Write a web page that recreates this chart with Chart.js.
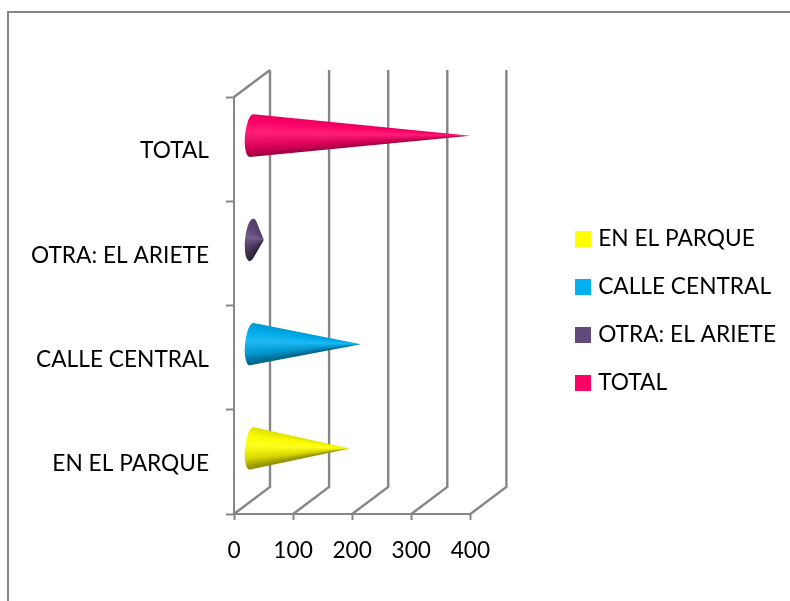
<!DOCTYPE html>
<html lang="es">
<head>
<meta charset="utf-8">
<title>Calles</title>
<script src="https://cdn.jsdelivr.net/npm/chart.js@4/dist/chart.umd.min.js"></script>
<style>
  html, body { margin: 0; padding: 0; background: #fff; overflow: hidden; }
  #frame { position: absolute; left: 7px; top: 11px; right: 0; bottom: 0; border-left: 2px solid #868686; border-top: 2px solid #868686; }
  #chart { position: absolute; left: 0; top: 0; display: block; }
</style>
</head>
<body>
<div id="frame"></div>
<canvas id="chart" width="790" height="601"></canvas>
<script>
const categories = ['EN EL PARQUE', 'CALLE CENTRAL', 'OTRA: EL ARIETE', 'TOTAL'];
const seriesValues = [165, 184, 20, 369];
const seriesColors = ['#ffff00', '#00b0f0', '#604a7b', '#ff0066'];
const xTicks = [0, 100, 200, 300, 400];

const FONT = 'Lato, "Open Sans", sans-serif';
const LINE = '#868686';
const DEPTH_X = 36;
const DEPTH_Y = 27;

// brightness across a cone, from its lower edge (0) to its upper edge (1)
const shading = [[0, 0.45], [0.15, 0.62], [0.3, 0.85], [0.55, 1.12], [0.75, 0.98], [1, 0.82]];

function shade(hex, k) {
  const n = parseInt(hex.slice(1), 16);
  const ch = [n >> 16 & 255, n >> 8 & 255, n & 255].map(c => {
    const v = k <= 1 ? c * k : c + (255 - c) * (k - 1);
    return Math.round(v);
  });
  return `rgb(${ch.join(',')})`;
}

// legend swatch as an image, so it can sit closer to its text than boxWidth allows
function swatch(color) {
  const c = document.createElement('canvas');
  c.width = 16;
  c.height = 16;
  const g = c.getContext('2d');
  g.fillStyle = color;
  g.fillRect(0, 0, 16, 16);
  return c;
}

// the chart sits in a box with depth: back gridlines and floor diagonals
const depthGrid = {
  id: 'depthGrid',
  beforeDatasetsDraw(chart) {
    const { ctx, scales } = chart;
    const top = scales.y.top;
    const bottom = scales.y.bottom;
    ctx.save();
    ctx.strokeStyle = LINE;
    ctx.lineWidth = 2.4;
    ctx.beginPath();
    xTicks.forEach(v => {
      const x = scales.x.getPixelForValue(v);
      ctx.moveTo(x, bottom);
      ctx.lineTo(x + DEPTH_X, bottom - DEPTH_Y);
      ctx.lineTo(x + DEPTH_X, top - DEPTH_Y);
    });
    const left = scales.x.getPixelForValue(0);
    ctx.moveTo(left, top);
    ctx.lineTo(left + DEPTH_X, top - DEPTH_Y);
    ctx.stroke();
    ctx.restore();
  }
};

function drawCone(ctx, bar, color) {
  const ry = bar.height / 2;
  const rx = 6.5;
  const rot = 0.095;
  const cx = bar.base + DEPTH_X / 2 - 1;
  const cy = bar.y - DEPTH_Y / 2;
  const tipX = bar.x + DEPTH_X / 2;
  const tipY = cy;

  // tangent points from the tip onto the tilted base ellipse
  const dx = tipX - cx;
  const dy = tipY - cy;
  const lx = (dx * Math.cos(rot) + dy * Math.sin(rot)) / rx;
  const ly = (-dx * Math.sin(rot) + dy * Math.cos(rot)) / ry;
  const theta = Math.atan2(ly, lx);
  const off = Math.acos(1 / Math.hypot(lx, ly));
  const t1 = theta + off;
  const t2 = theta - off + Math.PI * 2;

  const onEllipse = t => {
    const ex = rx * Math.cos(t);
    const ey = ry * Math.sin(t);
    return [cx + ex * Math.cos(rot) - ey * Math.sin(rot), cy + ex * Math.sin(rot) + ey * Math.cos(rot)];
  };
  const low = onEllipse(t1);
  const up = onEllipse(t2);
  const a0 = Math.atan2(low[1] - tipY, low[0] - tipX) - 0.04;
  let a1 = Math.atan2(up[1] - tipY, up[0] - tipX) + 0.04;
  if (a1 < a0) a1 += Math.PI * 2;

  const grad = ctx.createConicGradient(a0, tipX, tipY);
  const span = (a1 - a0) / (Math.PI * 2);
  shading.forEach(([f, k]) => grad.addColorStop(f * span, shade(color, k)));

  ctx.beginPath();
  ctx.moveTo(tipX, tipY);
  ctx.ellipse(cx, cy, rx, ry, rot, t1, t2, false);
  ctx.closePath();
  ctx.fillStyle = grad;
  ctx.fill();
}

// bars are replaced with cones, same value, band and base as the bar element
const coneBars = {
  id: 'coneBars',
  beforeDatasetDraw(chart, args) {
    const color = chart.data.datasets[args.index].backgroundColor;
    args.meta.data.forEach((bar, i) => {
      if (chart.data.datasets[args.index].data[i] !== null) drawCone(chart.ctx, bar, color);
    });
    return false;
  }
};

// legend keeps its own drawing but is placed clear of the plot
const placeLegend = {
  id: 'placeLegend',
  afterLayout(chart) {
    const lg = chart.legend;
    const w = lg.width;
    const h = lg.height;
    lg.left = 580.5 - 26;
    lg.right = lg.left + w;
    lg.top -= 38;
    lg.bottom = lg.top + h;
  }
};

new Chart(document.getElementById('chart'), {
  type: 'bar',
  data: {
    labels: categories,
    datasets: categories.map((name, i) => ({
      label: name,
      data: seriesValues.map((v, j) => (i === j ? v : null)),
      backgroundColor: seriesColors[i],
      borderWidth: 0
    }))
  },
  plugins: [depthGrid, coneBars, placeLegend],
  options: {
    indexAxis: 'y',
    responsive: false,
    animation: false,
    events: [],
    grouped: false,
    barPercentage: 0.41,
    categoryPercentage: 1,
    layout: { padding: { top: 97, right: 88, left: 0, bottom: 0 } },
    scales: {
      x: {
        min: 0,
        max: 400,
        afterFit: s => { s.height = 87; },
        afterBuildTicks: s => { s.ticks = xTicks.map(value => ({ value })); },
        border: { color: LINE, width: 2 },
        grid: { drawOnChartArea: false, color: LINE, tickColor: LINE, tickWidth: 2, tickLength: 6 },
        ticks: { color: '#000', padding: 17, font: { family: FONT, size: 22.7 }, maxRotation: 0 }
      },
      y: {
        reverse: true,
        afterFit: s => { s.width = 234; },
        border: { color: LINE, width: 2 },
        grid: { drawOnChartArea: false, color: LINE, tickColor: LINE, tickWidth: 2, tickLength: 8 },
        ticks: { color: '#000', padding: 17, labelOffset: 2, autoSkip: false, font: { family: FONT, size: 22.7 } }
      }
    },
    plugins: {
      tooltip: { enabled: false },
      legend: {
        position: 'right',
        align: 'center',
        maxWidth: 320,
        labels: {
          usePointStyle: true,
          pointStyleWidth: 7,
          boxHeight: 16,
          padding: 25.3,
          color: '#000',
          font: { family: FONT, size: 22.7 },
          generateLabels(chart) {
            return Chart.defaults.plugins.legend.labels.generateLabels(chart).map((item, i) => {
              item.pointStyle = swatch(seriesColors[i]);
              return item;
            });
          }
        }
      }
    }
  }
});
</script>
</body>
</html>
